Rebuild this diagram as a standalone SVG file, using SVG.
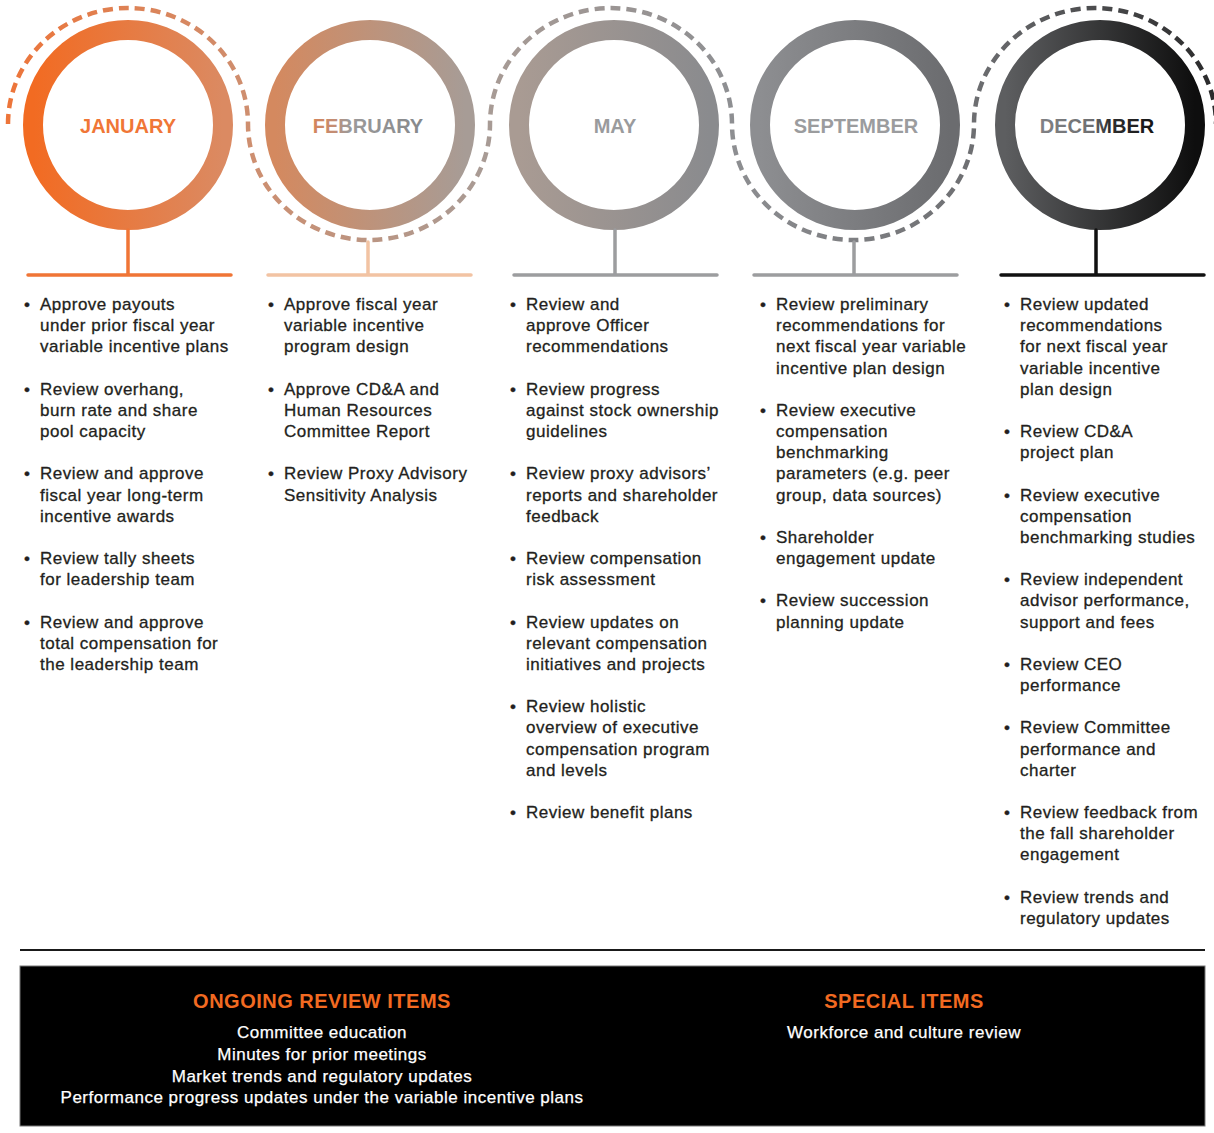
<svg xmlns="http://www.w3.org/2000/svg" width="1214" height="1133" viewBox="0 0 1214 1133">
<defs>
<linearGradient id="gJan" x1="0" y1="0" x2="1" y2="0"><stop offset="0" stop-color="#F26B22"/><stop offset="1" stop-color="#DB8A62"/></linearGradient>
<linearGradient id="gFeb" x1="0" y1="0" x2="1" y2="0"><stop offset="0" stop-color="#D4895F"/><stop offset="1" stop-color="#A79C96"/></linearGradient>
<linearGradient id="gMay" x1="0" y1="0" x2="1" y2="0"><stop offset="0" stop-color="#A99B93"/><stop offset="1" stop-color="#8A8B8E"/></linearGradient>
<linearGradient id="gSep" x1="0" y1="0" x2="1" y2="0"><stop offset="0" stop-color="#8D8E91"/><stop offset="1" stop-color="#6B6C6F"/></linearGradient>
<linearGradient id="gDec" x1="0" y1="0" x2="1" y2="0"><stop offset="0" stop-color="#5D5E60"/><stop offset="1" stop-color="#0E0E0E"/></linearGradient>
<linearGradient id="gWave" gradientUnits="userSpaceOnUse" x1="0" y1="0" x2="1214" y2="0">
<stop offset="0" stop-color="#EE7438"/><stop offset="0.2" stop-color="#CF8E6E"/><stop offset="0.4" stop-color="#A89B95"/><stop offset="0.6" stop-color="#8E8F92"/><stop offset="0.8" stop-color="#6E6F72"/><stop offset="1" stop-color="#2A2A2B"/>
</linearGradient>
<linearGradient id="tFeb" gradientUnits="userSpaceOnUse" x1="312" y1="0" x2="424" y2="0"><stop offset="0" stop-color="#D4845A"/><stop offset="0.2" stop-color="#C48D74"/><stop offset="0.33" stop-color="#9C9A9A"/><stop offset="1" stop-color="#86888B"/></linearGradient>
<linearGradient id="tDec" gradientUnits="userSpaceOnUse" x1="1040" y1="0" x2="1155" y2="0"><stop offset="0" stop-color="#808184"/><stop offset="0.45" stop-color="#6E6F71"/><stop offset="0.6" stop-color="#2E2E2F"/><stop offset="1" stop-color="#151515"/></linearGradient>
<style>
.ring{fill:none;stroke-width:20}
.mon{font-family:"Liberation Sans",Arial,sans-serif;font-weight:bold;font-size:20px;text-anchor:middle}
.b{font-family:"Liberation Sans",Arial,sans-serif;font-size:17px;letter-spacing:0.5px;fill:#231F20;stroke:#231F20;stroke-width:0.3px}
.stem{fill:none;stroke-width:3.5;stroke-linecap:round}
.hd{font-family:"Liberation Sans",Arial,sans-serif;font-weight:bold;font-size:20px;letter-spacing:0.5px;fill:#F26A21;text-anchor:middle}
.w{font-family:"Liberation Sans",Arial,sans-serif;font-size:17px;letter-spacing:0.5px;fill:#FFFFFF;stroke:#FFFFFF;stroke-width:0.25px;text-anchor:middle}
</style>
</defs>
<rect width="1214" height="1133" fill="#FFFFFF"/>

<g id="connectors">
<path d="M8,124 A120,116 0 0 1 248,124 A121,116 0 0 0 490,124 A121,116 0 0 1 732,124 A121,116 0 0 0 974,124 A121,116 0 0 1 1216,124" fill="none" stroke="url(#gWave)" stroke-width="4.5" stroke-dasharray="10 6"/>
</g>

<g id="january">
<circle class="ring" cx="128" cy="125" r="95" stroke="url(#gJan)"/>
<text class="mon" x="128" y="133" fill="#F07636">JANUARY</text>
<path class="stem" d="M128,230 V274 M28,275 H231" stroke="#F07536"/>
<g class="b">
<text x="24" y="310">•</text><text x="40" y="310">Approve payouts</text><text x="40" y="331.2">under prior fiscal year</text><text x="40" y="352.3">variable incentive plans</text>
<text x="24" y="394.7">•</text><text x="40" y="394.7">Review overhang,</text><text x="40" y="415.9">burn rate and share</text><text x="40" y="437">pool capacity</text>
<text x="24" y="479.4">•</text><text x="40" y="479.4">Review and approve</text><text x="40" y="500.5">fiscal year long-term</text><text x="40" y="521.7">incentive awards</text>
<text x="24" y="564">•</text><text x="40" y="564">Review tally sheets</text><text x="40" y="585.2">for leadership team</text>
<text x="24" y="627.6">•</text><text x="40" y="627.6">Review and approve</text><text x="40" y="648.7">total compensation for</text><text x="40" y="669.9">the leadership team</text>
</g>
</g>

<g id="february">
<circle class="ring" cx="370" cy="125" r="95" stroke="url(#gFeb)"/>
<text class="mon" x="368" y="133" fill="url(#tFeb)">FEBRUARY</text>
<path class="stem" d="M368,242 V274 M268,275 H471" stroke="#F2C3A3"/>
<g class="b">
<text x="268" y="310">•</text><text x="284" y="310">Approve fiscal year</text><text x="284" y="331.2">variable incentive</text><text x="284" y="352.3">program design</text>
<text x="268" y="394.7">•</text><text x="284" y="394.7">Approve CD&amp;A and</text><text x="284" y="415.9">Human Resources</text><text x="284" y="437">Committee Report</text>
<text x="268" y="479.4">•</text><text x="284" y="479.4">Review Proxy Advisory</text><text x="284" y="500.5">Sensitivity Analysis</text>
</g>
</g>

<g id="may">
<circle class="ring" cx="614" cy="125" r="95" stroke="url(#gMay)"/>
<text class="mon" x="615" y="133" fill="#9A9B9D">MAY</text>
<path class="stem" d="M615,230 V274 M514,275 H717" stroke="#9C9D9F"/>
<g class="b">
<text x="510" y="310">•</text><text x="526" y="310">Review and</text><text x="526" y="331.2">approve Officer</text><text x="526" y="352.3">recommendations</text>
<text x="510" y="394.7">•</text><text x="526" y="394.7">Review progress</text><text x="526" y="415.9">against stock ownership</text><text x="526" y="437">guidelines</text>
<text x="510" y="479.4">•</text><text x="526" y="479.4">Review proxy advisors’</text><text x="526" y="500.5">reports and shareholder</text><text x="526" y="521.7">feedback</text>
<text x="510" y="564">•</text><text x="526" y="564">Review compensation</text><text x="526" y="585.2">risk assessment</text>
<text x="510" y="627.6">•</text><text x="526" y="627.6">Review updates on</text><text x="526" y="648.7">relevant compensation</text><text x="526" y="669.9">initiatives and projects</text>
<text x="510" y="712.2">•</text><text x="526" y="712.2">Review holistic</text><text x="526" y="733.4">overview of executive</text><text x="526" y="754.5">compensation program</text><text x="526" y="775.7">and levels</text>
<text x="510" y="818.1">•</text><text x="526" y="818.1">Review benefit plans</text>
</g>
</g>

<g id="september">
<circle class="ring" cx="855" cy="125" r="95" stroke="url(#gSep)"/>
<text class="mon" x="856" y="133" fill="#9B9C9E">SEPTEMBER</text>
<path class="stem" d="M854,242 V274 M754,275 H957" stroke="#9C9D9F"/>
<g class="b">
<text x="760" y="310">•</text><text x="776" y="310">Review preliminary</text><text x="776" y="331.2">recommendations for</text><text x="776" y="352.3">next fiscal year variable</text><text x="776" y="373.5">incentive plan design</text>
<text x="760" y="415.9">•</text><text x="776" y="415.9">Review executive</text><text x="776" y="437">compensation</text><text x="776" y="458.2">benchmarking</text><text x="776" y="479.4">parameters (e.g. peer</text><text x="776" y="500.5">group, data sources)</text>
<text x="760" y="542.9">•</text><text x="776" y="542.9">Shareholder</text><text x="776" y="564">engagement update</text>
<text x="760" y="606.4">•</text><text x="776" y="606.4">Review succession</text><text x="776" y="627.6">planning update</text>
</g>
</g>

<g id="december">
<circle class="ring" cx="1100" cy="125" r="95" stroke="url(#gDec)"/>
<text class="mon" x="1097" y="133" fill="url(#tDec)">DECEMBER</text>
<path class="stem" d="M1096,230 V274 M1001,275 H1204" stroke="#111111"/>
<g class="b">
<text x="1004" y="310">•</text><text x="1020" y="310">Review updated</text><text x="1020" y="331.2">recommendations</text><text x="1020" y="352.3">for next fiscal year</text><text x="1020" y="373.5">variable incentive</text><text x="1020" y="394.7">plan design</text>
<text x="1004" y="437">•</text><text x="1020" y="437">Review CD&amp;A</text><text x="1020" y="458.2">project plan</text>
<text x="1004" y="500.5">•</text><text x="1020" y="500.5">Review executive</text><text x="1020" y="521.7">compensation</text><text x="1020" y="542.9">benchmarking studies</text>
<text x="1004" y="585.2">•</text><text x="1020" y="585.2">Review independent</text><text x="1020" y="606.4">advisor performance,</text><text x="1020" y="627.6">support and fees</text>
<text x="1004" y="669.9">•</text><text x="1020" y="669.9">Review CEO</text><text x="1020" y="691">performance</text>
<text x="1004" y="733.4">•</text><text x="1020" y="733.4">Review Committee</text><text x="1020" y="754.5">performance and</text><text x="1020" y="775.7">charter</text>
<text x="1004" y="818.1">•</text><text x="1020" y="818.1">Review feedback from</text><text x="1020" y="839.2">the fall shareholder</text><text x="1020" y="860.4">engagement</text>
<text x="1004" y="902.8">•</text><text x="1020" y="902.8">Review trends and</text><text x="1020" y="923.9">regulatory updates</text>
</g>
</g>

<line x1="20" y1="950" x2="1205" y2="950" stroke="#1A1A1A" stroke-width="2"/>

<g id="bottom-panel">
<rect x="20" y="966" width="1185" height="160" fill="#000000" stroke="#777777" stroke-width="1"/>
<text class="hd" x="322" y="1008">ONGOING REVIEW ITEMS</text>
<text class="w" x="322" y="1038">Committee education</text>
<text class="w" x="322" y="1060">Minutes for prior meetings</text>
<text class="w" x="322" y="1082">Market trends and regulatory updates</text>
<text class="w" x="322" y="1103">Performance progress updates under the variable incentive plans</text>
<text class="hd" x="904" y="1008">SPECIAL ITEMS</text>
<text class="w" x="904" y="1038">Workforce and culture review</text>
</g>
</svg>
